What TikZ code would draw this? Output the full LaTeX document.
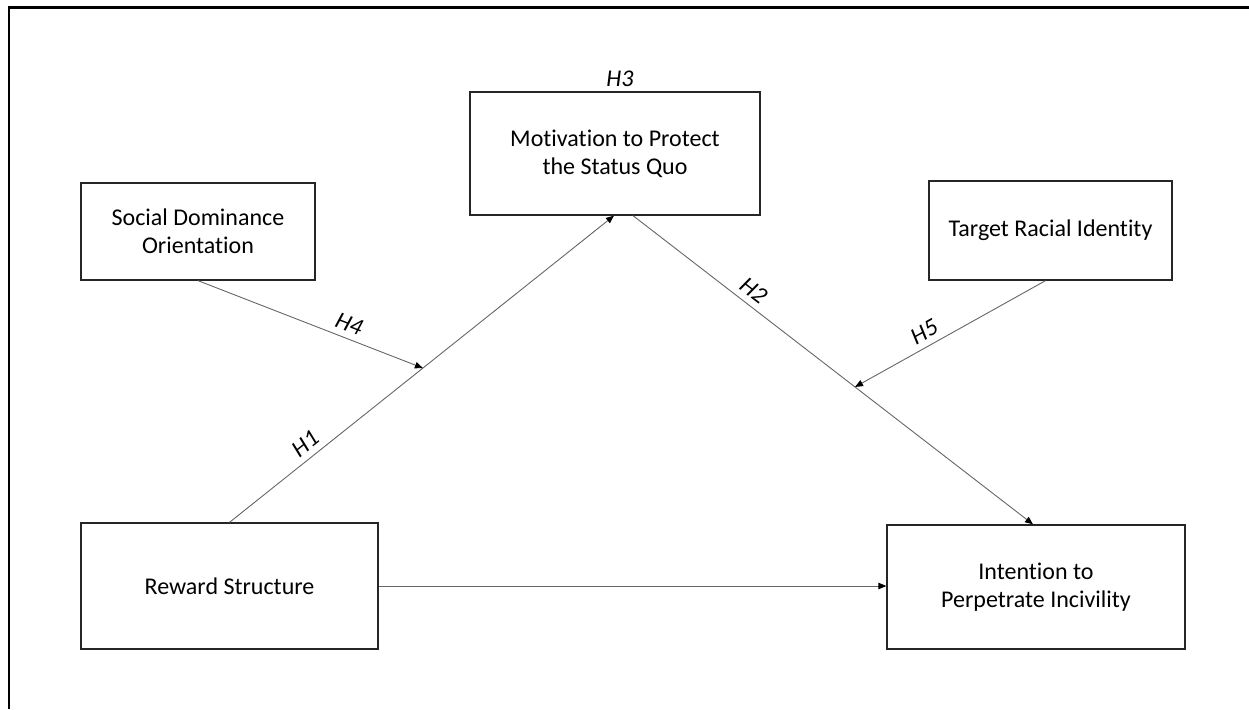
\documentclass[tikz,border=0pt]{standalone}
\usepackage{fontspec}
\setmainfont{Carlito}[Ligatures={NoCommon,NoRare,NoContextual}]
\usetikzlibrary{arrows.meta}
\begin{document}
\begin{tikzpicture}[x=1pt,y=-1pt,
  box/.style={draw=black!85, line width=1.3pt, align=center, inner sep=0pt,
    font=\fontsize{24}{28}\selectfont},
  conn/.style={draw=black!60, line width=0.9pt, -{Triangle[length=8pt,width=6.5pt,black]}},
  hlab/.style={font=\fontsize{24}{28}\selectfont\itshape, inner sep=6pt}]
\useasboundingbox (0,0) rectangle (1249,709);
% outer frame (top and left edges)
\draw[line width=2.4pt] (9,709) -- (9,7.5) -- (1249,7.5);
% boxes
\node[box, minimum width=234pt, minimum height=97pt] (sdo) at (198,231.5) {Social Dominance\\Orientation};
\node[box, minimum width=290pt, minimum height=123pt] (mot) at (615,153.5) {Motivation to Protect\\the Status Quo};
\node[box, minimum width=243pt, minimum height=99pt] (tri) at (1050.5,230.5) {Target Racial Identity};
\node[box, minimum width=297pt, minimum height=126pt] (rew) at (229.5,586) {Reward Structure};
\node[box, minimum width=298pt, minimum height=124pt] (int) at (1036,587) {Intention to\\Perpetrate Incivility};
% label H3
\node[hlab, inner sep=0pt] (h3) at (620,79) {H3};
% connectors
\draw[conn] (rew.north) -- node[hlab, sloped, above, pos=0.22] (h1) {H1} coordinate[pos=0.503] (m1) ([xshift=-1pt]mot.south);
\draw[conn] ([xshift=18pt]mot.south) -- node[hlab, sloped, above, pos=0.28] (h2) {H2} coordinate[pos=0.555] (m2) ([xshift=-3pt]int.north);
\draw[conn] (sdo.south) -- node[hlab, sloped, above, pos=0.65] (h4) {H4} (m1);
\draw[conn] ([xshift=-5pt]tri.south) -- node[hlab, sloped, above, pos=0.6] (h5) {H5} (m2);
\draw[conn] (rew.east) -- (rew.east -| int.west);
\end{tikzpicture}
\end{document}
